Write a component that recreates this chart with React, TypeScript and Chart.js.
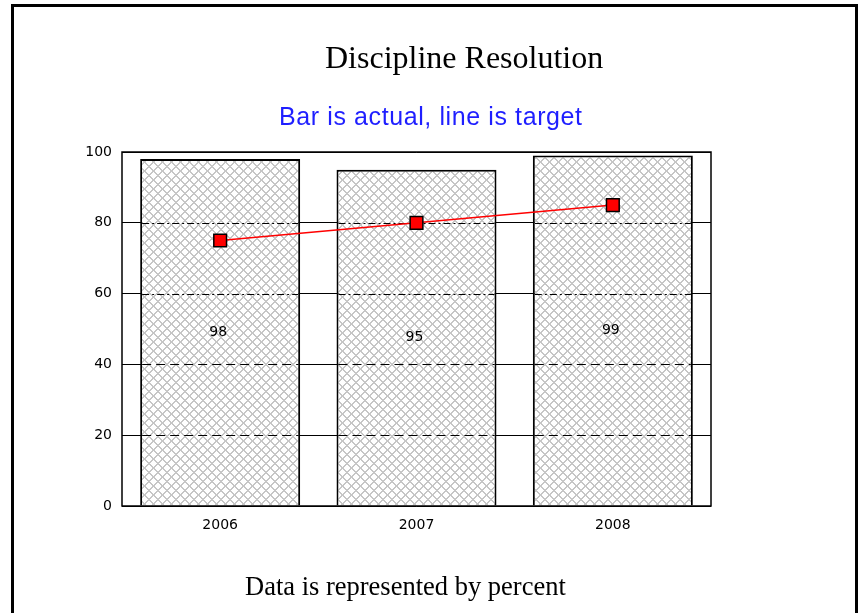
import React, { useEffect, useRef } from "react";
import { Chart, registerables } from "chart.js";

Chart.register(...registerables);

const categories = ["2006", "2007", "2008"];
const actualValues = [98, 95, 99];
const targetValues = [75, 80, 85];
const yTickValues = [0, 20, 40, 60, 80, 100];
const titleText = "Discipline Resolution";
const subtitleText = "Bar is actual, line is target";
const footerText = "Data is represented by percent";

function makeHatch(): CanvasPattern | string {
  const n = 9;
  const c = document.createElement("canvas");
  c.width = n;
  c.height = n;
  const g = c.getContext("2d");
  if (!g) return "#e0e0e0";
  g.fillStyle = "#ffffff";
  g.fillRect(0, 0, n, n);
  g.fillStyle = "#c6c6c6";
  for (let i = 0; i < n; i++) {
    g.fillRect(i, i, 1, 1);
    g.fillRect((i + 1) % n, i, 1, 1);
    g.fillRect(n - 1 - i, i, 1, 1);
    g.fillRect((n - i) % n, i, 1, 1);
  }
  return g.createPattern(c, "repeat") || "#e0e0e0";
}

const overlayPlugin = {
  id: "overlayPlugin",
  afterDatasetDraw(chart: any, args: any) {
    if (args.index !== 0) return;
    const ctx = chart.ctx;
    const meta = chart.getDatasetMeta(0);
    const yScale = chart.scales.y;
    ctx.save();
    ctx.strokeStyle = "#000000";
    ctx.lineWidth = 1;
    meta.data.forEach((bar: any) => {
      const p = bar.getProps(["x", "width"], true);
      const left = p.x - p.width / 2 + 2;
      const right = p.x + p.width / 2 - 2;
      yTickValues.forEach((v) => {
        if (v === 0 || v === 100) return;
        const y = Math.round(yScale.getPixelForValue(v)) + 0.5;
        ctx.setLineDash(v >= 60 ? [7, 3, 2, 3] : [9, 5]);
        ctx.beginPath();
        ctx.moveTo(left, y);
        ctx.lineTo(right, y);
        ctx.stroke();
      });
    });
    ctx.setLineDash([]);
    ctx.fillStyle = "#000000";
    ctx.font = "14px 'DejaVu Sans'";
    ctx.textAlign = "center";
    ctx.textBaseline = "middle";
    meta.data.forEach((bar: any, i: number) => {
      const p = bar.getProps(["x", "y", "base"], true);
      ctx.fillText(String(actualValues[i]), p.x - 2, (p.y + p.base) / 2);
    });
    ctx.restore();
  },
  afterDraw(chart: any) {
    const ctx = chart.ctx;
    const a = chart.chartArea;
    ctx.save();
    ctx.strokeStyle = "#000000";
    ctx.lineWidth = 1.5;
    ctx.strokeRect(a.left, a.top, a.right - a.left, a.bottom - a.top);
    ctx.restore();
  },
};

export default function App() {
  const canvasRef = useRef<HTMLCanvasElement | null>(null);

  useEffect(() => {
    const canvas = canvasRef.current;
    if (!canvas) return;
    const hatch = makeHatch();
    const chart = new Chart(canvas, {
      type: "bar",
      data: {
        labels: categories,
        datasets: [
          {
            type: "bar",
            label: "Actual",
            data: actualValues,
            backgroundColor: hatch as any,
            borderColor: "#000000",
            borderWidth: 2,
            barPercentage: 0.815,
            categoryPercentage: 1,
            order: 2,
          },
          {
            type: "line",
            label: "Target",
            data: targetValues,
            borderColor: "#ff0000",
            borderWidth: 1.5,
            tension: 0,
            pointStyle: "rect",
            pointRadius: 9,
            pointHoverRadius: 9,
            pointBackgroundColor: "#ff0000",
            pointBorderColor: "#000000",
            pointBorderWidth: 1.5,
            order: 1,
          } as any,
        ],
      },
      options: {
        responsive: false,
        animation: false,
        devicePixelRatio: 1,
        layout: { padding: { left: 0, top: 152, right: 147, bottom: 77 } },
        plugins: {
          legend: { display: false },
          title: { display: false },
          tooltip: { enabled: false },
        },
        scales: {
          x: {
            offset: true,
            grid: { display: false },
            border: { display: false },
            ticks: {
              color: "#000000",
              font: { family: "'DejaVu Sans'", size: 14 },
              padding: 3,
            },
            afterFit: (s: any) => {
              s.height = 30;
            },
          },
          y: {
            min: 0,
            max: 100,
            border: { display: false },
            grid: { color: "#000000", lineWidth: 1, drawTicks: false },
            ticks: {
              stepSize: 20,
              color: "#000000",
              font: { family: "'DejaVu Sans'", size: 14 },
              padding: 10,
            },
            afterFit: (s: any) => {
              s.width = 122;
            },
          },
        },
      },
      plugins: [overlayPlugin],
    });
    return () => chart.destroy();
  }, []);

  const textBase: React.CSSProperties = {
    position: "absolute",
    margin: 0,
    whiteSpace: "nowrap",
    lineHeight: 1,
  };

  return (
    <div
      style={{
        position: "absolute",
        left: 0,
        top: 0,
        width: 858,
        height: 613,
        overflow: "hidden",
        background: "#ffffff",
      }}
    >
      <div
        style={{
          position: "absolute",
          left: 11,
          top: 4,
          width: 847,
          height: 700,
          border: "3px solid #000000",
          boxSizing: "border-box",
        }}
      />
      <canvas
        ref={canvasRef}
        width={858}
        height={613}
        style={{ position: "absolute", left: 0, top: 0, width: 858, height: 613 }}
      />
      <div
        style={{
          ...textBase,
          left: 325,
          top: 41,
          fontFamily: "'Liberation Serif', 'Times New Roman', serif",
          fontSize: 32,
          color: "#000000",
        }}
      >
        {titleText}
      </div>
      <div
        style={{
          ...textBase,
          left: 279,
          top: 104,
          fontFamily: "'Liberation Sans', Arial, sans-serif",
          fontSize: 25,
          letterSpacing: 0.6,
          color: "#1f1fff",
        }}
      >
        {subtitleText}
      </div>
      <div
        style={{
          ...textBase,
          left: 245,
          top: 573,
          fontFamily: "'Liberation Serif', 'Times New Roman', serif",
          fontSize: 26.5,
          color: "#000000",
        }}
      >
        {footerText}
      </div>
    </div>
  );
}
